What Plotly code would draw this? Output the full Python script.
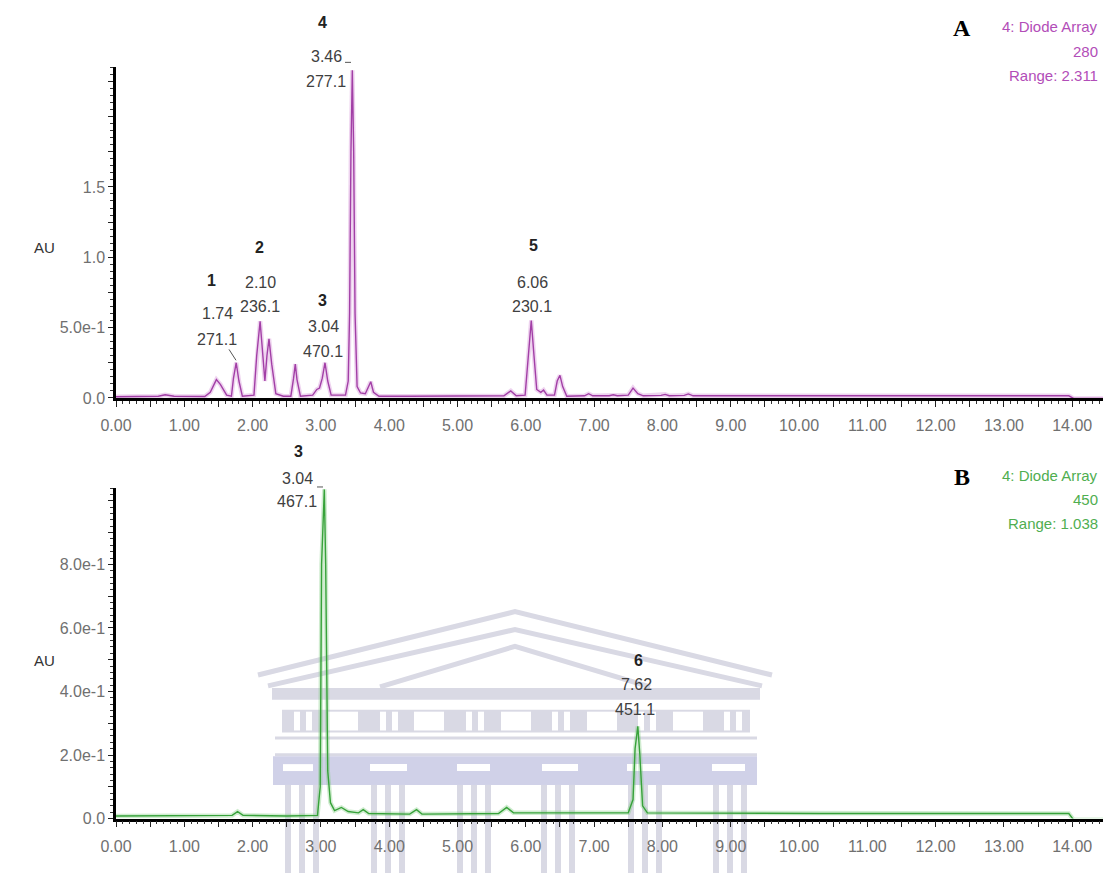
import plotly.graph_objects as go

# ---------------- data ----------------
# Panel A : 280 nm channel
time_a = [0.00, 0.40, 0.62, 0.72, 0.85, 1.30, 1.38, 1.47, 1.53, 1.62, 1.69, 1.72, 1.76, 1.80, 1.85,
          2.02, 2.06, 2.11, 2.15, 2.18, 2.21, 2.24, 2.28, 2.34, 2.45, 2.56, 2.60, 2.625, 2.65, 2.70,
          2.88, 2.94, 2.98, 3.02, 3.06, 3.10, 3.15, 3.36, 3.40, 3.42, 3.44, 3.46, 3.48, 3.50, 3.53,
          3.58, 3.65, 3.70, 3.73, 3.77, 3.85, 4.30, 5.00, 5.68, 5.78, 5.86, 5.99, 6.04, 6.08, 6.12,
          6.16, 6.22, 6.26, 6.31, 6.42, 6.46, 6.50, 6.54, 6.60, 6.86, 6.92, 6.98, 7.22, 7.28, 7.34,
          7.50, 7.57, 7.64, 7.72, 7.98, 8.04, 8.10, 8.32, 8.38, 8.45, 13.95, 14.02, 14.50]
au_a = [0.008, 0.010, 0.012, 0.022, 0.012, 0.010, 0.040, 0.130, 0.095, 0.020, 0.012, 0.140, 0.250, 0.120, 0.012,
        0.020, 0.300, 0.545, 0.300, 0.120, 0.300, 0.420, 0.240, 0.030, 0.012, 0.012, 0.140, 0.240, 0.130, 0.012,
        0.020, 0.060, 0.070, 0.140, 0.250, 0.120, 0.020, 0.020, 0.120, 0.600, 1.750, 2.330, 1.750, 0.600, 0.080,
        0.035, 0.030, 0.080, 0.115, 0.040, 0.012, 0.012, 0.015, 0.015, 0.050, 0.015, 0.020, 0.350, 0.550, 0.300,
        0.060, 0.040, 0.056, 0.020, 0.020, 0.120, 0.160, 0.080, 0.012, 0.015, 0.030, 0.015, 0.015, 0.022, 0.015,
        0.020, 0.070, 0.030, 0.015, 0.018, 0.025, 0.015, 0.018, 0.028, 0.015, 0.015, -0.004, -0.004]

# Panel B : 450 nm channel
time_b = [0.00, 1.00, 1.70, 1.78, 1.86, 2.50, 2.95, 2.99, 3.01, 3.05, 3.07, 3.10, 3.14, 3.20, 3.30,
          3.40, 3.55, 3.62, 3.70, 4.30, 4.40, 4.48, 5.60, 5.72, 5.82, 7.50, 7.57, 7.60, 7.64, 7.67,
          7.71, 7.78, 10.30, 13.95, 14.02, 14.50]
au_b = [0.008, 0.010, 0.010, 0.022, 0.010, 0.008, 0.010, 0.100, 0.800, 1.036, 0.800, 0.150, 0.050, 0.025, 0.035,
        0.022, 0.018, 0.028, 0.016, 0.014, 0.028, 0.014, 0.016, 0.035, 0.018, 0.018, 0.060, 0.220, 0.290, 0.200,
        0.040, 0.018, 0.016, 0.016, -0.004, -0.004]

# peak labels
peak_num_a = ["1", "2", "3", "4", "5"]
peak_rt_a = ["1.74", "2.10", "3.04", "3.46", "6.06"]
peak_mz_a = ["271.1", "236.1", "470.1", "277.1", "230.1"]
peak_num_b = ["3", "6"]
peak_rt_b = ["3.04", "7.62"]
peak_mz_b = ["467.1", "451.1"]

# axis ticks
x_tickvals = [i * 0.5 for i in range(29)]
x_ticktext = [("%.2f" % v) if v == int(v) else "" for v in x_tickvals]
ya_tickvals = [0, 0.25, 0.5, 0.75, 1.0, 1.25, 1.5, 1.75, 2.0, 2.25]
ya_ticktext = ["0.0", "", "5.0e-1", "", "1.0", "", "1.5", "", "", ""]
yb_tickvals = [0, 0.1, 0.2, 0.3, 0.4, 0.5, 0.6, 0.7, 0.8, 0.9, 1.0]
yb_ticktext = ["0.0", "", "2.0e-1", "", "4.0e-1", "", "6.0e-1", "", "8.0e-1", "", ""]

# ---------------- layout helpers ----------------
W, H = 1103, 882
L = 116
PW = W - L
PX_PER_MIN = 68.3


def px(x):
    return (x - L) / PW


def py(y):
    return (H - y) / H


NARROW = "Liberation Sans Narrow, Arial Narrow, Liberation Sans, Arial, sans-serif"
TICKC = "#707070"
LABC = "#404040"
PURPLE = "#a23fa6"
GREEN = "#37a23a"

fig = go.Figure()

# halo + line, panel A
fig.add_trace(go.Scatter(x=time_a, y=au_a, mode="lines", xaxis="x", yaxis="y",
                         line=dict(color="rgba(205,130,210,0.35)", width=4.5), hoverinfo="skip"))
fig.add_trace(go.Scatter(x=time_a, y=au_a, mode="lines", xaxis="x", yaxis="y",
                         line=dict(color=PURPLE, width=1.4)))
# halo + line, panel B
fig.add_trace(go.Scatter(x=time_b, y=au_b, mode="lines", xaxis="x2", yaxis="y2",
                         line=dict(color="rgba(120,200,120,0.35)", width=4.5), hoverinfo="skip"))
fig.add_trace(go.Scatter(x=time_b, y=au_b, mode="lines", xaxis="x2", yaxis="y2",
                         line=dict(color=GREEN, width=1.4)))

xr = [0, PW / PX_PER_MIN]
common_x = dict(range=xr, showline=True, linecolor="black", linewidth=2.5, ticks="outside",
                ticklen=6, tickwidth=1, tickcolor="#222", tickvals=x_tickvals, ticktext=x_ticktext,
                tickfont=dict(family=NARROW, size=16, color=TICKC), showgrid=False, zeroline=False,
                minor=dict(dtick=0.1, ticks="outside", ticklen=3, tickcolor="#333", showgrid=False),
                ticklabelstandoff=5)
common_y = dict(showline=True, linecolor="black", linewidth=2.5, ticks="outside", ticklen=5,
                tickwidth=1, tickcolor="#222", tickfont=dict(family=NARROW, size=16, color=TICKC),
                showgrid=False, zeroline=False)

fig.update_layout(
    width=W, height=H,
    margin=dict(l=L, r=0, t=0, b=0),
    paper_bgcolor="white", plot_bgcolor="rgba(0,0,0,0)",
    showlegend=False,
    xaxis=dict(domain=[0, 1], anchor="y", **common_x),
    yaxis=dict(domain=[py(402), py(68)], anchor="x", range=[0, 334 / 142.1],
               tickvals=ya_tickvals, ticktext=ya_ticktext,
               minor=dict(dtick=0.05, ticks="outside", ticklen=3, tickcolor="#333", showgrid=False),
               **common_y),
    xaxis2=dict(domain=[0, 1], anchor="y2", **common_x),
    yaxis2=dict(domain=[py(827), py(493)], anchor="x2", range=[0, 334 / 321.0],
                tickvals=yb_tickvals, ticktext=yb_ticktext,
                minor=dict(dtick=0.02, ticks="outside", ticklen=3, tickcolor="#333", showgrid=False),
                **common_y),
)

ann = []


def text(x, y, s, size=16, color=LABC, family=NARROW, xanchor="center", bold=False):
    ann.append(dict(xref="paper", yref="paper", x=px(x), y=py(y), text=("<b>%s</b>" % s) if bold else s,
                    showarrow=False, xanchor=xanchor, yanchor="middle",
                    font=dict(family=family, size=size, color=color)))


# peak labels panel A
pos_a = [((211, 283), (217, 317), (217, 343)),
         ((259, 250), (260, 285), (260, 310)),
         ((322, 304), (323, 330), (323, 355)),
         ((322, 23), (326, 57), (326, 82)),
         ((533, 248), (532, 285), (532, 310))]
for i in range(len(peak_num_a)):
    (n, r, m) = pos_a[i]
    text(n[0], n[1], peak_num_a[i], size=16, bold=True, color="#222")
    text(r[0], r[1], peak_rt_a[i])
    text(m[0], m[1], peak_mz_a[i])

pos_b = [((298, 456), (297, 483), (297, 507)),
         ((638, 667), (636, 692), (635, 717))]
for i in range(len(peak_num_b)):
    (n, r, m) = pos_b[i]
    text(n[0], n[1], peak_num_b[i], size=16, bold=True, color="#222")
    text(r[0], r[1], peak_rt_b[i])
    text(m[0], m[1], peak_mz_b[i])

# AU labels
text(44, 250, "AU", size=15, color="#333")
text(44, 667, "AU", size=15, color="#333")

# panel letters
text(962, 28, "A", size=24, color="black", family="Liberation Serif, Times New Roman, serif", bold=True)
text(962, 482, "B", size=24, color="black", family="Liberation Serif, Times New Roman, serif", bold=True)

# channel descriptions
LEG_A = "#b24db8"
LEG_B = "#4fae50"
text(1100, 27, "4: Diode Array", size=15, color=LEG_A, xanchor="right")
text(1100, 52, "280", size=15, color=LEG_A, xanchor="right")
text(1100, 76, "Range: 2.311", size=15, color=LEG_A, xanchor="right")
text(1100, 480, "4: Diode Array", size=15, color=LEG_B, xanchor="right")
text(1100, 505, "450", size=15, color=LEG_B, xanchor="right")
text(1100, 529, "Range: 1.038", size=15, color=LEG_B, xanchor="right")

fig.update_layout(annotations=ann)

shapes = []


def seg(x0, y0, x1, y1, color="#555", width=1):
    shapes.append(dict(type="line", xref="paper", yref="paper", x0=px(x0), y0=py(y0), x1=px(x1), y1=py(y1),
                       line=dict(color=color, width=width)))


# leader line and apex markers
seg(229, 353, 236, 364, color="#555", width=1)
seg(345, 63, 351, 63, color="#555", width=1)
seg(317, 492, 323, 492, color="#555", width=1)

# ---- faint building watermark (decoration) ----
WM = "#d9d9e4"
WM2 = "#d0d1e8"


def rect(x0, y0, x1, y1, color):
    shapes.append(dict(type="rect", xref="paper", yref="paper", x0=px(x0), y0=py(y0), x1=px(x1), y1=py(y1),
                       line=dict(width=0), fillcolor=color, layer="below"))


def path(pts, color, width):
    d = "M " + " L ".join("%f,%f" % (px(a), py(b)) for a, b in pts)
    shapes.append(dict(type="path", xref="paper", yref="paper", path=d,
                       line=dict(color=color, width=width), layer="below"))


path([(258, 682), (515, 618), (772, 682)], WM, 5)
path([(268, 693), (515, 636), (762, 693)], WM, 5)
path([(380, 694), (515, 653), (650, 694)], WM, 5)
rect(272, 695, 760, 707, WM)
rect(282, 717, 750, 740, WM)
for c in [343, 429, 516, 602, 688]:
    rect(c - 15, 719, c + 15, 738, "white")
for g in [297, 309, 383, 395, 469, 481, 555, 567, 641, 653, 727, 739]:
    rect(g - 3, 719, g + 3, 738, "white")
rect(275, 744, 757, 747, WM)
rect(275, 761, 757, 764, WM)
rect(273, 764, 757, 793, WM2)
for a, b in [(283, 313), (370, 407), (457, 490), (542, 578), (627, 660), (712, 745)]:
    rect(a, 772, b, 779, "white")
for c in [302, 388, 474, 558, 645, 730]:
    for off in (-14, 0, 14):
        rect(c + off - 3, 793, c + off + 3, 882, WM)

fig.update_layout(shapes=shapes)

fig.write_html("out.html")
